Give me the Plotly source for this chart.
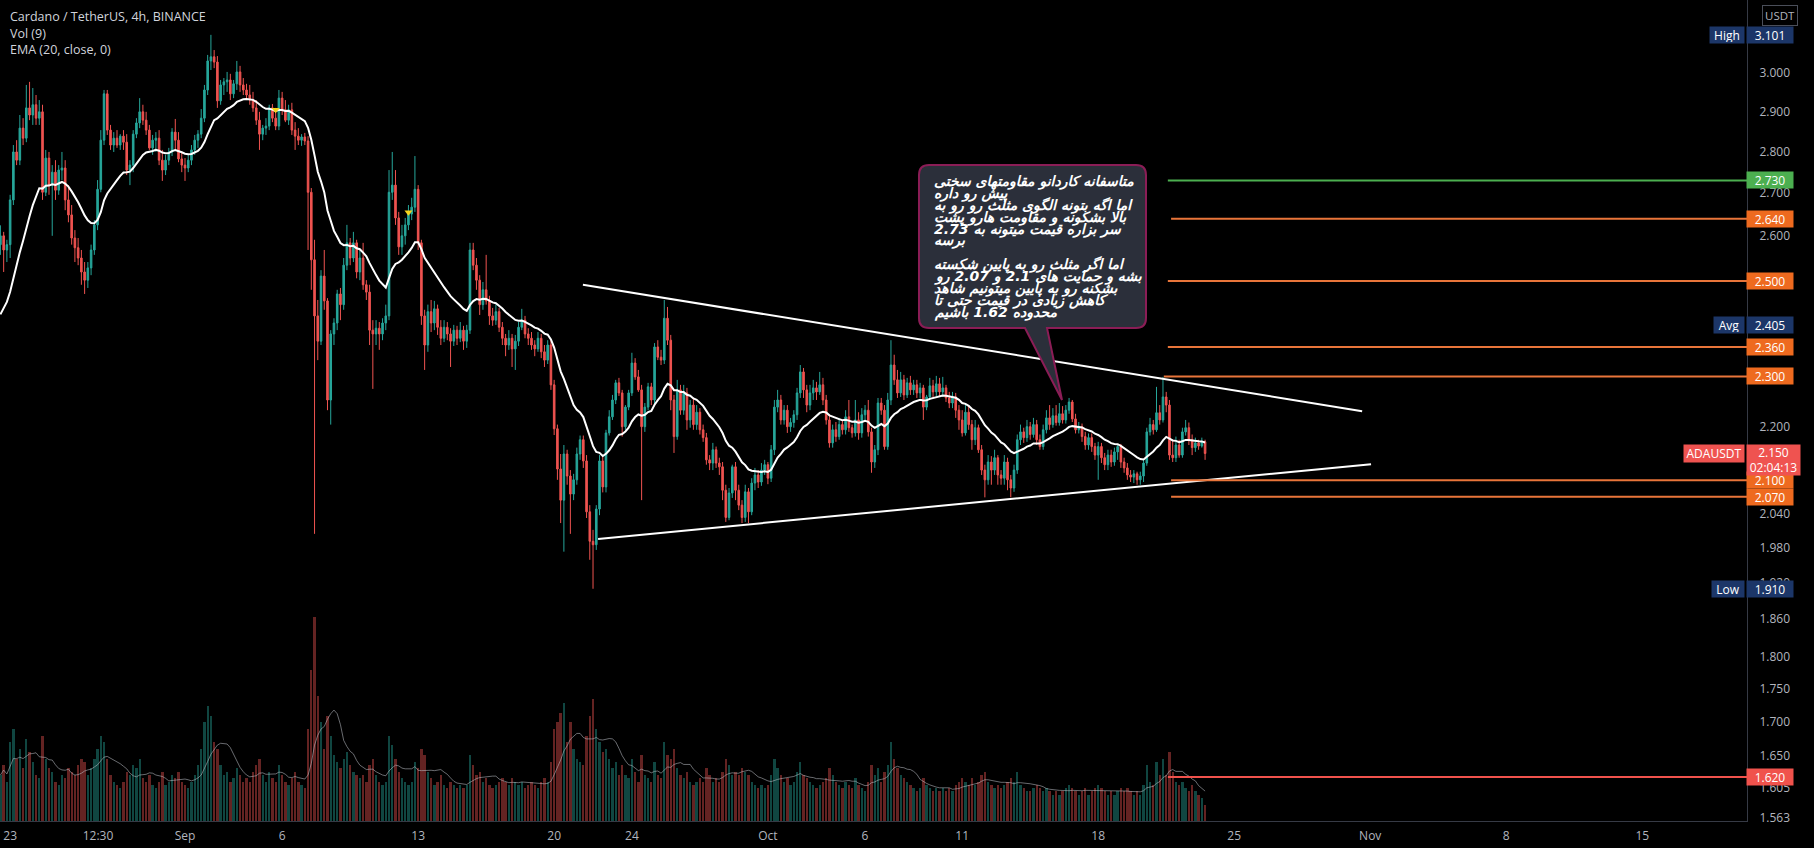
import math
from datetime import datetime, timedelta
import plotly.graph_objects as go

# ---------------------------------------------------------------- data
bar_start = datetime(2021, 8, 22, 12, 0)   # first 4h bar
bar_hours = 4
first_open = 2.581

closes = [
    2.601, 2.569, 2.581, 2.684, 2.799, 2.779, 2.858, 2.833, 2.909, 2.891,
    2.917, 2.883, 2.899, 2.702, 2.784, 2.719, 2.750, 2.707, 2.755, 2.760,
    2.684, 2.649, 2.596, 2.574, 2.551, 2.520, 2.502, 2.529, 2.569, 2.626,
    2.709, 2.828, 2.945, 2.853, 2.816, 2.833, 2.816, 2.838, 2.823, 2.755,
    2.767, 2.843, 2.871, 2.899, 2.878, 2.853, 2.809, 2.828, 2.833, 2.779,
    2.755, 2.779, 2.799, 2.848, 2.828, 2.782, 2.767, 2.760, 2.779, 2.804,
    2.828, 2.843, 2.883, 2.955, 3.031, 3.042, 3.028, 2.927, 2.968, 2.976,
    2.981, 2.945, 2.971, 3.002, 2.968, 2.955, 2.942, 2.929, 2.909, 2.878,
    2.843, 2.858, 2.863, 2.909, 2.883, 2.863, 2.934, 2.904, 2.878, 2.904,
    2.853, 2.838, 2.828, 2.836, 2.826, 2.702, 2.547, 2.425, 2.372, 2.511,
    2.457, 2.253, 2.387, 2.410, 2.472, 2.449, 2.535, 2.585, 2.551, 2.585,
    2.520, 2.551, 2.492, 2.476, 2.395, 2.387, 2.399, 2.387, 2.410, 2.425,
    2.702, 2.719, 2.642, 2.576, 2.601, 2.626, 2.651, 2.667, 2.709, 2.585,
    2.425, 2.364, 2.434, 2.410, 2.440, 2.401, 2.378, 2.401, 2.387, 2.372,
    2.395, 2.378, 2.395, 2.372, 2.395, 2.569, 2.535, 2.502, 2.449, 2.481,
    2.457, 2.425, 2.416, 2.434, 2.401, 2.378, 2.364, 2.378, 2.356, 2.372,
    2.401, 2.416, 2.387, 2.378, 2.364, 2.356, 2.378, 2.350, 2.333, 2.364,
    2.283, 2.197, 2.121, 2.064, 2.149, 2.108, 2.075, 2.101, 2.149, 2.176,
    2.136, 2.043, 1.991, 1.985, 2.048, 2.136, 2.088, 2.189, 2.220, 2.253,
    2.287, 2.267, 2.201, 2.239, 2.267, 2.327, 2.299, 2.273, 2.201, 2.239,
    2.279, 2.253, 2.360, 2.339, 2.333, 2.420, 2.374, 2.253, 2.182, 2.273,
    2.233, 2.267, 2.214, 2.243, 2.205, 2.229, 2.195, 2.180, 2.138, 2.132,
    2.157, 2.132, 2.125, 2.082, 2.033, 2.077, 2.125, 2.082, 2.055, 2.033,
    2.079, 2.043, 2.095, 2.110, 2.097, 2.119, 2.129, 2.104, 2.157, 2.239,
    2.253, 2.214, 2.233, 2.201, 2.209, 2.224, 2.267, 2.309, 2.273, 2.243,
    2.267, 2.277, 2.269, 2.283, 2.253, 2.214, 2.170, 2.195, 2.182, 2.205,
    2.195, 2.220, 2.199, 2.189, 2.214, 2.189, 2.224, 2.233, 2.191, 2.134,
    2.157, 2.247, 2.233, 2.163, 2.253, 2.323, 2.293, 2.267, 2.293, 2.263,
    2.287, 2.273, 2.283, 2.267, 2.277, 2.239, 2.259, 2.281, 2.269, 2.285,
    2.269, 2.277, 2.257, 2.247, 2.259, 2.233, 2.214, 2.189, 2.229, 2.205,
    2.176, 2.199, 2.157, 2.119, 2.101, 2.134, 2.119, 2.142, 2.110, 2.104,
    2.134, 2.101, 2.086, 2.119, 2.176, 2.191, 2.180, 2.201, 2.186, 2.205,
    2.176, 2.163, 2.195, 2.218, 2.205, 2.222, 2.209, 2.226, 2.214, 2.233,
    2.249, 2.216, 2.195, 2.201, 2.182, 2.166, 2.180, 2.163, 2.147, 2.163,
    2.142, 2.129, 2.147, 2.134, 2.153, 2.163, 2.134, 2.123, 2.110, 2.106,
    2.112, 2.101, 2.108, 2.132, 2.191, 2.205, 2.195, 2.228, 2.214, 2.259,
    2.243, 2.147, 2.142, 2.166, 2.147, 2.191, 2.199, 2.176, 2.161, 2.170,
    2.164, 2.172, 2.150,
]

highs = [
    2.625, 2.610, 2.592, 2.696, 2.816, 2.828, 2.891, 2.883, 2.968, 2.976,
    2.960, 2.942, 2.929, 2.917, 2.804, 2.799, 2.767, 2.779, 2.767, 2.799,
    2.779, 2.719, 2.672, 2.614, 2.596, 2.569, 2.542, 2.542, 2.581, 2.637,
    2.731, 2.853, 2.955, 2.955, 2.866, 2.848, 2.853, 2.843, 2.853, 2.843,
    2.779, 2.853, 2.883, 2.934, 2.917, 2.899, 2.866, 2.841, 2.848, 2.853,
    2.804, 2.792, 2.809, 2.858, 2.881, 2.848, 2.799, 2.784, 2.792, 2.816,
    2.841, 2.853, 2.906, 2.968, 3.047, 3.101, 3.060, 3.044, 2.981, 2.986,
    3.002, 2.997, 2.981, 3.031, 3.018, 2.986, 2.971, 2.968, 2.950, 2.929,
    2.899, 2.866, 2.883, 2.917, 2.919, 2.909, 2.955, 2.950, 2.929, 2.917,
    2.922, 2.873, 2.858, 2.843, 2.846, 2.838, 2.712, 2.592, 2.459, 2.524,
    2.569, 2.463, 2.395, 2.420, 2.481, 2.485, 2.551, 2.626, 2.596, 2.610,
    2.592, 2.569, 2.585, 2.502, 2.492, 2.416, 2.416, 2.412, 2.420, 2.449,
    2.755, 2.799, 2.755, 2.656, 2.626, 2.642, 2.672, 2.689, 2.789, 2.719,
    2.592, 2.438, 2.449, 2.459, 2.457, 2.449, 2.416, 2.416, 2.412, 2.399,
    2.406, 2.404, 2.412, 2.404, 2.406, 2.585, 2.585, 2.551, 2.513, 2.498,
    2.558, 2.468, 2.442, 2.449, 2.442, 2.412, 2.387, 2.395, 2.387, 2.385,
    2.412, 2.440, 2.425, 2.399, 2.391, 2.374, 2.391, 2.387, 2.364, 2.374,
    2.374, 2.293, 2.205, 2.149, 2.166, 2.157, 2.119, 2.112, 2.161, 2.184,
    2.184, 2.147, 2.055, 2.011, 2.055, 2.147, 2.147, 2.195, 2.233, 2.263,
    2.293, 2.297, 2.273, 2.243, 2.273, 2.348, 2.337, 2.313, 2.283, 2.247,
    2.287, 2.287, 2.368, 2.374, 2.354, 2.459, 2.444, 2.385, 2.263, 2.293,
    2.283, 2.283, 2.277, 2.253, 2.257, 2.243, 2.237, 2.205, 2.189, 2.147,
    2.170, 2.163, 2.142, 2.134, 2.092, 2.086, 2.129, 2.134, 2.092, 2.064,
    2.092, 2.086, 2.104, 2.123, 2.119, 2.132, 2.138, 2.134, 2.166, 2.253,
    2.273, 2.263, 2.243, 2.243, 2.218, 2.233, 2.277, 2.323, 2.317, 2.283,
    2.283, 2.293, 2.289, 2.309, 2.297, 2.263, 2.224, 2.205, 2.210, 2.218,
    2.214, 2.233, 2.253, 2.205, 2.253, 2.229, 2.237, 2.243, 2.253, 2.199,
    2.166, 2.257, 2.257, 2.243, 2.267, 2.374, 2.344, 2.313, 2.309, 2.303,
    2.297, 2.301, 2.293, 2.293, 2.287, 2.283, 2.263, 2.297, 2.293, 2.301,
    2.297, 2.299, 2.283, 2.269, 2.269, 2.267, 2.243, 2.233, 2.243, 2.243,
    2.214, 2.214, 2.205, 2.166, 2.129, 2.147, 2.145, 2.157, 2.147, 2.119,
    2.147, 2.142, 2.110, 2.129, 2.186, 2.205, 2.199, 2.214, 2.210, 2.218,
    2.214, 2.186, 2.205, 2.233, 2.243, 2.237, 2.243, 2.247, 2.241, 2.243,
    2.257, 2.253, 2.226, 2.210, 2.207, 2.191, 2.188, 2.188, 2.170, 2.172,
    2.170, 2.151, 2.157, 2.157, 2.161, 2.166, 2.168, 2.142, 2.132, 2.119,
    2.119, 2.116, 2.116, 2.138, 2.199, 2.218, 2.214, 2.279, 2.243, 2.299,
    2.269, 2.253, 2.176, 2.182, 2.176, 2.199, 2.214, 2.209, 2.186, 2.180,
    2.176, 2.180, 2.176,
]

lows = [
    2.558, 2.520, 2.542, 2.551, 2.672, 2.767, 2.767, 2.816, 2.823, 2.878,
    2.866, 2.866, 2.866, 2.684, 2.693, 2.696, 2.601, 2.684, 2.696, 2.731,
    2.660, 2.632, 2.581, 2.542, 2.535, 2.492, 2.472, 2.485, 2.513, 2.558,
    2.614, 2.702, 2.816, 2.841, 2.804, 2.799, 2.809, 2.804, 2.804, 2.743,
    2.719, 2.750, 2.833, 2.858, 2.866, 2.841, 2.804, 2.792, 2.799, 2.767,
    2.729, 2.743, 2.767, 2.789, 2.804, 2.774, 2.750, 2.729, 2.750, 2.767,
    2.792, 2.809, 2.833, 2.873, 2.942, 3.007, 3.012, 2.909, 2.917, 2.942,
    2.950, 2.929, 2.934, 2.955, 2.950, 2.942, 2.929, 2.917, 2.899, 2.866,
    2.804, 2.828, 2.841, 2.853, 2.873, 2.853, 2.853, 2.891, 2.873, 2.866,
    2.841, 2.804, 2.816, 2.814, 2.816, 2.569, 2.481, 2.004, 2.333, 2.364,
    2.438, 2.233, 2.205, 2.364, 2.395, 2.416, 2.438, 2.524, 2.535, 2.542,
    2.506, 2.502, 2.481, 2.459, 2.364, 2.275, 2.364, 2.354, 2.374, 2.395,
    2.416, 2.684, 2.626, 2.558, 2.558, 2.581, 2.614, 2.637, 2.656, 2.569,
    2.406, 2.313, 2.350, 2.391, 2.395, 2.385, 2.364, 2.370, 2.374, 2.319,
    2.362, 2.364, 2.370, 2.354, 2.358, 2.387, 2.524, 2.481, 2.427, 2.438,
    2.449, 2.406, 2.404, 2.406, 2.391, 2.364, 2.341, 2.354, 2.319, 2.313,
    2.362, 2.395, 2.378, 2.364, 2.354, 2.341, 2.350, 2.337, 2.319, 2.325,
    2.273, 2.185, 2.101, 2.023, 1.973, 2.092, 2.004, 2.064, 2.092, 2.138,
    2.123, 2.032, 1.959, 1.910, 1.976, 2.037, 2.078, 2.078, 2.184, 2.214,
    2.245, 2.261, 2.182, 2.195, 2.233, 2.261, 2.293, 2.269, 2.064, 2.191,
    2.233, 2.243, 2.245, 2.333, 2.323, 2.325, 2.364, 2.233, 2.151, 2.176,
    2.224, 2.224, 2.195, 2.199, 2.195, 2.195, 2.186, 2.172, 2.129, 2.119,
    2.119, 2.123, 2.110, 2.064, 2.025, 2.028, 2.068, 2.064, 2.046, 2.023,
    2.025, 2.023, 2.037, 2.082, 2.086, 2.090, 2.110, 2.093, 2.097, 2.147,
    2.229, 2.205, 2.205, 2.189, 2.191, 2.199, 2.214, 2.257, 2.257, 2.229,
    2.233, 2.253, 2.253, 2.263, 2.243, 2.205, 2.161, 2.161, 2.172, 2.176,
    2.186, 2.186, 2.191, 2.180, 2.182, 2.176, 2.180, 2.214, 2.182, 2.114,
    2.123, 2.147, 2.224, 2.157, 2.157, 2.243, 2.283, 2.257, 2.259, 2.253,
    2.257, 2.263, 2.263, 2.257, 2.257, 2.214, 2.233, 2.253, 2.257, 2.261,
    2.261, 2.259, 2.249, 2.237, 2.237, 2.218, 2.195, 2.182, 2.184, 2.195,
    2.157, 2.166, 2.151, 2.110, 2.069, 2.092, 2.092, 2.110, 2.092, 2.092,
    2.092, 2.082, 2.069, 2.079, 2.112, 2.166, 2.170, 2.172, 2.176, 2.180,
    2.166, 2.157, 2.157, 2.188, 2.195, 2.199, 2.203, 2.203, 2.207, 2.207,
    2.226, 2.210, 2.188, 2.188, 2.172, 2.157, 2.157, 2.153, 2.138, 2.101,
    2.132, 2.119, 2.119, 2.125, 2.127, 2.138, 2.123, 2.114, 2.101, 2.097,
    2.095, 2.092, 2.092, 2.097, 2.127, 2.184, 2.186, 2.191, 2.205, 2.209,
    2.229, 2.138, 2.134, 2.134, 2.142, 2.142, 2.184, 2.166, 2.147, 2.153,
    2.157, 2.161, 2.138,
]

volumes = [  # millions of ADA per 4h bar
    70, 85, 60, 120, 140, 95,   110, 80, 125, 105, 90, 70,
    65, 130, 95, 80, 75, 60,    55, 70, 65, 80, 75, 70,
    85, 95, 90, 70, 80, 95,     110, 130, 120, 95, 70, 60,
    55, 50, 60, 75, 70, 85,     80, 95, 65, 60, 70, 55,
    50, 60, 75, 55, 60, 70,     65, 75, 60, 55, 50, 60,
    70, 85, 110, 150, 175, 160, 120, 110, 85, 70, 75, 60,
    65, 80, 70, 60, 65, 60,     75, 85, 95, 70, 60, 75,
    65, 60, 85, 70, 60, 55,     65, 75, 60, 55, 50, 140,
    230, 310, 190, 150, 110, 160, 130, 100, 90, 80, 95, 105,
    85, 75, 70, 65, 70, 60,     85, 95, 70, 60, 55, 60,
    130, 115, 95, 75, 65, 60,   55, 60, 90, 80, 110, 100,
    75, 65, 55, 60, 70, 55,     50, 60, 55, 50, 55, 50,
    55, 100, 85, 70, 75, 60,    65, 55, 50, 55, 60, 65,
    60, 55, 65, 60, 55, 60,     50, 55, 60, 55, 50, 60,
    65, 60, 90, 140, 150, 165,  180, 120, 150, 110, 95, 90,
    85, 130, 160, 185, 140, 120, 105, 110, 95, 80, 90, 70,
    85, 70, 65, 95, 75, 60,     100, 70, 65, 60, 90, 70,
    65, 120, 100, 95, 110, 80,  70, 65, 75, 60, 55, 60,
    65, 60, 80, 70, 60, 65,     60, 75, 95, 85, 70, 75,
    70, 80, 75, 70, 60, 55,     50, 55, 50, 55, 70, 95,
    80, 70, 60, 65, 55, 60,     75, 90, 70, 65, 60, 55,
    50, 55, 60, 65, 80, 70,     60, 55, 50, 60, 55, 50,
    65, 55, 50, 45, 60, 85,     70, 80, 60, 75, 85, 120,
    95, 80, 70, 65, 60, 55,     50, 45, 50, 65, 55, 50,
    45, 50, 45, 50, 45, 50,     45, 55, 60, 65, 60, 55,
    65, 55, 60, 70, 75, 60,     55, 50, 55, 50, 55, 60,
    65, 60, 75, 55, 50, 45,     45, 50, 55, 50, 45, 50,
    45, 40, 45, 40, 45, 50,     55, 50, 45, 40, 45, 50,
    40, 45, 50, 55, 50, 45,     40, 45, 40, 45, 50, 45,
    50, 45, 40, 45, 40, 55,     85, 60, 55, 90, 70, 95,
    70, 105, 75, 60, 55, 60,    50, 45, 55, 45, 40, 35,
    25,
]

ema_length = 20
ema_seed = 2.41          # EMA value carried in from before the visible range
vol_ma_length = 9

marker_times = [datetime(2021, 9, 5, 16, 0), datetime(2021, 9, 12, 12, 0)]
marker_prices = [2.904, 2.655]

upper_trend_times = [datetime(2021, 9, 21, 11, 30), datetime(2021, 10, 31, 14, 0)]
upper_trend_prices = [2.492, 2.231]
lower_trend_times = [datetime(2021, 9, 22, 6, 15), datetime(2021, 11, 1, 1, 0)]
lower_trend_prices = [1.995, 2.130]

level_prices = [2.730, 2.640, 2.500, 2.360, 2.300, 2.100, 2.070, 1.620]
level_starts = [datetime(2021, 10, 21, 14), datetime(2021, 10, 21, 18),
                datetime(2021, 10, 21, 14), datetime(2021, 10, 21, 14),
                datetime(2021, 10, 21, 9), datetime(2021, 10, 21, 18),
                datetime(2021, 10, 21, 18), datetime(2021, 10, 21, 14)]
level_kinds = ["target", "res", "res", "res", "res", "sup", "sup", "risk"]

high_price, low_price, avg_price, last_price = 3.101, 1.910, 2.405, 2.150
countdown = "02:04:13"

x_tick_dates = [datetime(2021, 8, 23), datetime(2021, 8, 27, 12, 30), datetime(2021, 9, 1),
                datetime(2021, 9, 6), datetime(2021, 9, 13), datetime(2021, 9, 20),
                datetime(2021, 9, 24), datetime(2021, 10, 1), datetime(2021, 10, 6),
                datetime(2021, 10, 11), datetime(2021, 10, 18), datetime(2021, 10, 25),
                datetime(2021, 11, 1), datetime(2021, 11, 8), datetime(2021, 11, 15)]
x_tick_text = ["23", "12:30", "Sep", "6", "13", "20", "24", "Oct", "6", "11", "18", "25",
               "Nov", "8", "15"]
# price-scale ticks that stay (at least partly) visible beside the label boxes
y_tick_values = [3.0, 2.9, 2.8, 2.7, 2.6, 2.2, 2.04, 1.98, 1.92,
                 1.86, 1.8, 1.75, 1.7, 1.65, 1.605, 1.563]

note_lines = [
    "متاسفانه کاردانو مقاومتهای سختی",
    "پیش رو داره",
    "اما اگه بتونه الگوی مثلث رو رو به",
    "بالا بشکونه و مقاومت هارو پشت",
    "سر بزاره قیمت میتونه به 2.73",
    "برسه",
    "",
    "اما اگر مثلث رو به پایین شکسته",
    "بشه و حمایت های 2.1 و 2.07 رو",
    "بشکنه رو به پایین میتونیم شاهد",
    "کاهش زیادی در قیمت حتی تا",
    "محدوده 1.62 باشیم",
]

# ---------------------------------------------------------------- layout constants
W, H = 1814, 848
MR, MB = 67, 27
PW, PH = W - MR, H - MB
x_start = datetime(2021, 8, 22, 11, 29)
x_end = datetime(2021, 11, 20, 9, 23)
p_bottom, p_top = 1.5588, 3.197

UP, DOWN = "#26a69a", "#ef5350"
ORANGE, ORANGE_LINE = "#ee6a1f", "#e8753a"
GREEN, RED, NAVY = "#4caf50", "#f0524c", "#1c3668"
TEXT = "#b2b5be"
FONT = "Open Sans"

level_style = {"target": GREEN, "res": ORANGE, "sup": ORANGE, "risk": RED}

# ---------------------------------------------------------------- derived series
n = len(closes)
assert len(highs) == n and len(lows) == n and len(volumes) == n, (len(highs), len(lows), len(volumes), n)
times = [bar_start + timedelta(hours=bar_hours * i) for i in range(n)]
opens = [first_open] + closes[:-1]
highs = [max(h, o, c) for h, o, c in zip(highs, opens, closes)]
lows = [min(l, o, c) for l, o, c in zip(lows, opens, closes)]

alpha = 2.0 / (ema_length + 1)
ema, prev = [], ema_seed
for c in closes:
    prev = prev + alpha * (c - prev)
    ema.append(prev)

vol_ma = []
for i in range(n):
    window = volumes[max(0, i - vol_ma_length + 1): i + 1]
    vol_ma.append(sum(window) / len(window))

vol_colors = ["rgba(38,166,154,0.42)" if c >= o else "rgba(239,83,80,0.42)"
              for o, c in zip(opens, closes)]


def paper_x(px):
    return px / PW


def paper_y(py):
    return 1 - py / PH


# ---------------------------------------------------------------- figure
fig = go.Figure()

fig.add_trace(go.Bar(x=times, y=volumes, marker=dict(color=vol_colors, line=dict(width=0)),
                     width=bar_hours * 3600 * 1000 * 0.72, yaxis="y", hoverinfo="skip"))
fig.add_trace(go.Scatter(x=times, y=vol_ma, mode="lines", yaxis="y",
                         line=dict(color="rgba(190,193,200,0.55)", width=1), hoverinfo="skip"))

fig.add_trace(go.Candlestick(
    x=times, open=opens, high=highs, low=lows, close=closes, yaxis="y2",
    increasing=dict(line=dict(color=UP, width=1), fillcolor=UP),
    decreasing=dict(line=dict(color=DOWN, width=1), fillcolor=DOWN),
    whiskerwidth=0, hoverinfo="skip"))

fig.add_trace(go.Scatter(x=times, y=ema, mode="lines", yaxis="y2",
                         line=dict(color="#ffffff", width=2), hoverinfo="skip"))

fig.add_trace(go.Scatter(x=marker_times, y=marker_prices, mode="markers", yaxis="y2",
                         marker=dict(symbol="triangle-down", size=7, color="#f5d31c"),
                         hoverinfo="skip"))

for tt, pp in ((upper_trend_times, upper_trend_prices), (lower_trend_times, lower_trend_prices)):
    fig.add_trace(go.Scatter(x=tt, y=pp, mode="lines", yaxis="y2",
                             line=dict(color="#ffffff", width=2), hoverinfo="skip"))

for price, start, kind in zip(level_prices, level_starts, level_kinds):
    col = level_style[kind]
    if kind in ("res", "sup"):
        col = ORANGE_LINE
    fig.add_trace(go.Scatter(x=[start, x_end], y=[price, price], mode="lines", yaxis="y2",
                             line=dict(color=col, width=2), hoverinfo="skip"))

shapes = []
for price, col in ((high_price, "#8a8d96"), (low_price, "#8a8d96"), (last_price, DOWN)):
    shapes.append(dict(type="line", xref="paper", x0=0, x1=1, yref="y2",
                       y0=math.log10(price), y1=math.log10(price),
                       line=dict(color=col, width=1, dash="dot"), layer="below"))

# callout bubble (pixel geometry -> paper)
bx0, by0, bx1, by1, r = 919, 165, 1146, 328, 10
tail_l, tail_r, tip = 1025, 1047, (1062, 400)
pts = [("M", bx0 + r, by0), ("L", bx1 - r, by0), ("Q", bx1, by0, bx1, by0 + r),
       ("L", bx1, by1 - r), ("Q", bx1, by1, bx1 - r, by1), ("L", tail_r, by1),
       ("L", tip[0], tip[1]), ("L", tail_l, by1), ("L", bx0 + r, by1),
       ("Q", bx0, by1, bx0, by1 - r), ("L", bx0, by0 + r), ("Q", bx0, by0, bx0 + r, by0)]
path = ""
for seg in pts:
    cmd, coords = seg[0], seg[1:]
    xy = []
    for k in range(0, len(coords), 2):
        xy.append(f"{paper_x(coords[k]):.5f},{paper_y(coords[k + 1]):.5f}")
    path += cmd + " " + " ".join(xy) + " "
path += "Z"
shapes.append(dict(type="path", xref="paper", yref="paper", path=path,
                   fillcolor="#2b2f3a", line=dict(color="#8b1d56", width=2), layer="above"))

annotations = []
for k, line in enumerate(note_lines):
    if not line:
        continue
    annotations.append(dict(
        x=paper_x(932), y=paper_y(181.5 + 11.9 * k), xref="paper", yref="paper",
        xanchor="left", yanchor="middle", showarrow=False, text=line, align="left",
        font=dict(family="DejaVu Sans", size=14, color="#ffffff", weight=700, style="italic")))

# legend texts
for yy, txt in ((16.5, "Cardano / TetherUS, 4h, BINANCE"), (33, "Vol (9)"), (50, "EMA (20, close, 0)")):
    annotations.append(dict(x=paper_x(8), y=paper_y(yy), xref="paper", yref="paper",
                            xanchor="left", yanchor="middle", showarrow=False, text=txt,
                            font=dict(family=FONT, size=12.5, color="#d1d4dc")))


def axis_label(price, text, bg, tag=None, tag_w=34, yshift=0, h=14, w=44, fg="#ffffff"):
    annotations.append(dict(
        x=paper_x(PW - 1), y=math.log10(price), xref="paper", yref="y2",
        xanchor="left", yanchor="middle", yshift=yshift, showarrow=False, text=text,
        bgcolor=bg, borderpad=1, width=w, height=h, align="center",
        font=dict(family=FONT, size=12, color=fg)))
    if tag:
        annotations.append(dict(
            x=paper_x(PW - 2), y=math.log10(price), xref="paper", yref="y2",
            xanchor="right", yanchor="middle", showarrow=False, text=tag,
            bgcolor=bg, borderpad=1, width=tag_w, height=h, align="center",
            font=dict(family=FONT, size=12, color=fg)))


axis_label(high_price, f"{high_price:.3f}", NAVY, "High", 32)
for price, kind in zip(level_prices, level_kinds):
    axis_label(price, f"{price:.3f}", level_style[kind])
axis_label(avg_price, f"{avg_price:.3f}", NAVY, "Avg", 28)
axis_label(low_price, f"{low_price:.3f}", NAVY, "Low", 30)
axis_label(last_price, f"{last_price:.3f}<br>{countdown}", DOWN, yshift=-7, h=28, w=51)
annotations.append(dict(
    x=paper_x(PW - 2), y=math.log10(last_price), xref="paper", yref="y2",
    xanchor="right", yanchor="middle", showarrow=False, text="ADAUSDT",
    bgcolor=DOWN, borderpad=1, width=58, height=15, align="center",
    font=dict(family=FONT, size=12, color="#ffffff")))
annotations.append(dict(
    x=paper_x(1780), y=paper_y(15.5), xref="paper", yref="paper", xanchor="center",
    yanchor="middle", showarrow=False, text="USDT", bordercolor="#4a4e59", borderwidth=1,
    borderpad=2, font=dict(family=FONT, size=11.5, color=TEXT)))

fig.update_layout(
    width=W, height=H, autosize=False,
    margin=dict(l=0, r=MR, t=0, b=MB, pad=0),
    paper_bgcolor="#000000", plot_bgcolor="#000000",
    showlegend=False, hovermode=False, bargap=0,
    xaxis=dict(type="date", range=[x_start, x_end], rangeslider=dict(visible=False),
               tickmode="array", tickvals=x_tick_dates, ticktext=x_tick_text,
               showgrid=False, zeroline=False, showline=True, linecolor="#363a45", linewidth=1,
               ticks="", ticklabelstandoff=4, tickfont=dict(family=FONT, size=12, color=TEXT)),
    yaxis=dict(range=[0, 1250], visible=False, fixedrange=True),
    yaxis2=dict(type="log", overlaying="y", side="right",
                range=[math.log10(p_bottom), math.log10(p_top)],
                tickmode="array", tickvals=y_tick_values,
                ticktext=[f"{v:.3f}" for v in y_tick_values],
                showgrid=False, zeroline=False, showline=True, linecolor="#363a45", linewidth=1,
                ticks="", ticklabelstandoff=9, tickfont=dict(family=FONT, size=12, color=TEXT)),
    shapes=shapes, annotations=annotations,
)

fig.write_html("out.html", config={"displayModeBar": False})
